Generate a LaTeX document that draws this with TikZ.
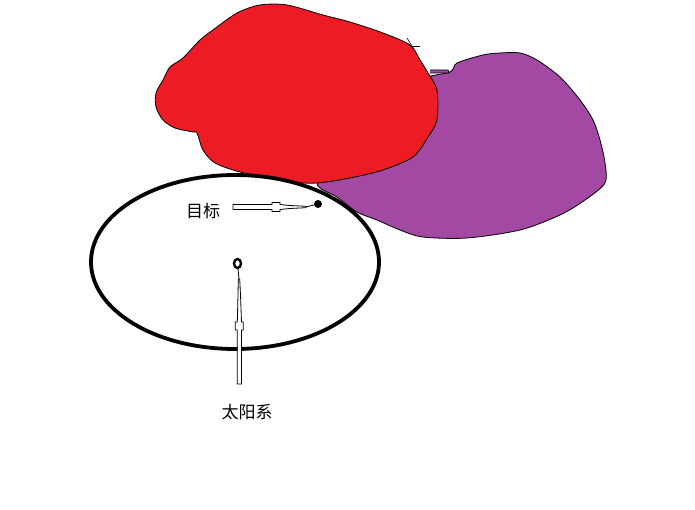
\documentclass[tikz,border=0pt]{standalone}
\usepackage{fontspec}
\usetikzlibrary{shapes.geometric}
\newfontfamily\cjk{Noto Sans CJK SC}
\definecolor{pred}{HTML}{ED1C24}
\definecolor{ppurple}{HTML}{A349A4}
\tikzset{
  blob/.style={draw=black, line width=0.8pt},
  hollow/.style={draw=black, fill=white, line width=0.8pt, line join=miter},
  lbl/.style={font=\cjk\fontsize{17}{20}\selectfont, text=black, inner sep=0pt}
}
\begin{document}
\begin{tikzpicture}[x=1pt,y=-1pt]
\useasboundingbox[fill=white] (0,0) rectangle (695,510);
% purple blob
\draw[blob, fill=ppurple] plot[smooth cycle, tension=0.5] coordinates {
 (420,80) (450,72) (457,63) (483,55) (500,53) (520,53) (537,60) (560,77)
 (580,100) (593,120) (600,140) (605,163) (605,183) (585,200) (560,215)
 (520,230) (467,238) (423,237) (400,230) (377,220) (357,212) (337,197)
 (317,183) (340,150) (390,110)};
\draw[blob, fill=ppurple] (430,70) -- (448,70) -- (449,73) -- (430,73);
% red blob
\draw[blob, fill=pred] plot[smooth cycle, tension=0.5] coordinates {
 (260,5) (287,5) (323,15) (350,22) (383,33) (410,45) (420,60) (428,73)
 (437,90) (437,120) (428,137) (413,157) (383,170) (350,178) (317,183)
 (290,182) (267,177) (240,172) (215,163) (203,150) (197,133) (193,132)
 (175,128) (163,120) (156,107) (156,93) (163,80) (170,67) (183,58)
 (200,40) (213,30) (237,13)};
\draw[line width=0.6pt] (407,38) -- (413,48);
\draw[line width=0.6pt] (410,46) -- (420,46);
% orbit ellipse
\draw[line width=3.8pt] (235,262) ellipse [x radius=144, y radius=87];
% target dot and sun
\node[circle, fill=black, minimum size=8pt, inner sep=0pt] (target) at (318,204) {};
\node[ellipse, draw=black, line width=2.4pt, minimum width=7pt, minimum height=9pt, inner sep=0pt] (sun) at (237.5,263.5) {};
% labels
\node[lbl] (tlbl) at (203,211) {目标};
\node[lbl] (slbl) at (247,412) {太阳系};
% horizontal hollow arrow
\draw[hollow] (233,204.5) -- (272,204.5) -- (272,202.5) -- (280,202.5) -- (280,204.5)
  -- (290,205.5) -- (306,206.3) -- (306,207.7) -- (290,208.5) -- (280,209.5)
  -- (280,211.5) -- (272,211.5) -- (272,209.5) -- (233,209.5) -- cycle;
\draw[line width=0.8pt] (306,207) -- (target);
% vertical hollow arrow
\draw[hollow] (237.3,384) -- (237.3,330) -- (235.2,330) -- (235.2,322) -- (237.3,322)
  -- (238,295) -- (238.3,279) -- (239.7,279) -- (240.5,295) -- (241.5,322)
  -- (243.3,322) -- (243.3,330) -- (241.5,330) -- (241.5,384) -- cycle;
\draw[line width=0.8pt] (239,279) -- (sun);
\end{tikzpicture}
\end{document}
